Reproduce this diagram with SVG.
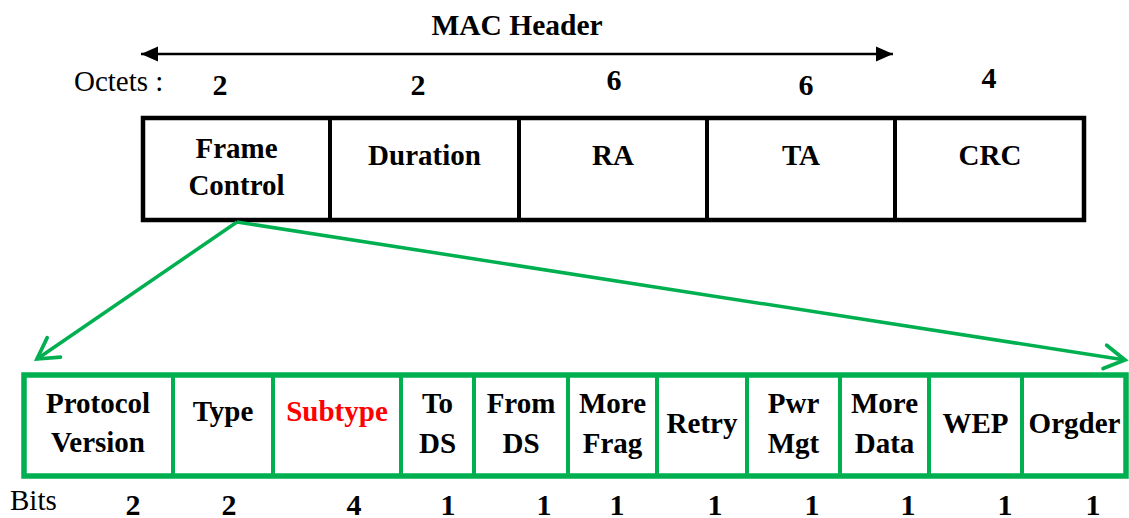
<svg xmlns="http://www.w3.org/2000/svg" width="1129" height="518" viewBox="0 0 1129 518">
  <style>
    text { font-family: 'Liberation Serif', Tinos, 'Times New Roman', Times, 'DejaVu Serif', serif; }
    .b { font-weight: bold; font-size: 29px; fill: #000; text-anchor: middle; }
    .n { font-weight: bold; font-size: 30px; fill: #000; text-anchor: middle; }
    .r { font-size: 29px; fill: #000; }
    .red { fill: #FF0000; }
    .blk { fill: none; stroke: #000; }
    .grn { fill: none; stroke: #00B050; }
  </style>
  <defs>
    <marker id="ah" markerUnits="userSpaceOnUse" markerWidth="20" markerHeight="20" viewBox="-18 -8 20 16" refX="0" refY="0" orient="auto-start-reverse">
      <path d="M-17,-7.5 L0,0 L-17,7.5 Z" fill="#000"/>
    </marker>
    <marker id="gh" markerUnits="userSpaceOnUse" markerWidth="30" markerHeight="30" viewBox="-22 -14 26 28" refX="0" refY="0" orient="auto">
      <path d="M-19,-11 L0,0 L-19,11" fill="none" stroke="#00B050" stroke-width="3.5" stroke-linecap="round" stroke-linejoin="miter"/>
    </marker>
  </defs>

  <g id="mac-header">
    <text class="b" x="517" y="35" style="font-size:29.5px">MAC Header</text>
  </g>

  <g id="octets">
    <text class="r" x="74" y="91">Octets :</text>
    <text class="n" x="220" y="95">2</text>
    <text class="n" x="418" y="95">2</text>
    <text class="n" x="614" y="90">6</text>
    <text class="n" x="806" y="95">6</text>
    <text class="n" x="989" y="88">4</text>
  </g>

  <g id="mac-frame">
    <rect class="blk" x="143" y="118" width="941" height="102" stroke-width="4.5"/>
    <line class="blk" x1="330" y1="118" x2="330" y2="220" stroke-width="4"/>
    <line class="blk" x1="519" y1="118" x2="519" y2="220" stroke-width="4"/>
    <line class="blk" x1="707" y1="118" x2="707" y2="220" stroke-width="4"/>
    <line class="blk" x1="895" y1="118" x2="895" y2="220" stroke-width="4"/>
  </g>
  <g id="frame-control"><text class="b" x="236.5" y="158">Frame</text><text class="b" x="236.5" y="195">Control</text></g>
  <g id="duration"><text class="b" x="424.5" y="165">Duration</text></g>
  <g id="ra"><text class="b" x="613" y="165">RA</text></g>
  <g id="ta"><text class="b" x="801" y="165">TA</text></g>
  <g id="crc"><text class="b" x="990" y="165">CRC</text></g>

  <g id="fc-frame">
    <rect class="grn" x="24" y="375" width="1102" height="101" stroke-width="5.5"/>
    <line class="grn" x1="173" y1="375" x2="173" y2="476" stroke-width="4"/>
    <line class="grn" x1="273" y1="375" x2="273" y2="476" stroke-width="4"/>
    <line class="grn" x1="401" y1="375" x2="401" y2="476" stroke-width="4"/>
    <line class="grn" x1="474" y1="375" x2="474" y2="476" stroke-width="4"/>
    <line class="grn" x1="568" y1="375" x2="568" y2="476" stroke-width="4"/>
    <line class="grn" x1="657" y1="375" x2="657" y2="476" stroke-width="4"/>
    <line class="grn" x1="747" y1="375" x2="747" y2="476" stroke-width="4"/>
    <line class="grn" x1="840" y1="375" x2="840" y2="476" stroke-width="4"/>
    <line class="grn" x1="929" y1="375" x2="929" y2="476" stroke-width="4"/>
    <line class="grn" x1="1022" y1="375" x2="1022" y2="476" stroke-width="4"/>
  </g>
  <g id="protocol-version"><text class="b" x="98" y="413">Protocol</text><text class="b" x="98" y="452">Version</text></g>
  <g id="type"><text class="b" x="223" y="421">Type</text></g>
  <g id="subtype"><text class="b red" x="337" y="421">Subtype</text></g>
  <g id="to-ds"><text class="b" x="437.5" y="413">To</text><text class="b" x="437.5" y="453">DS</text></g>
  <g id="from-ds"><text class="b" x="521" y="413">From</text><text class="b" x="521" y="453">DS</text></g>
  <g id="more-frag"><text class="b" x="612.5" y="413">More</text><text class="b" x="612.5" y="453">Frag</text></g>
  <g id="retry"><text class="b" x="702" y="433">Retry</text></g>
  <g id="pwr-mgt"><text class="b" x="793.5" y="413">Pwr</text><text class="b" x="793.5" y="453">Mgt</text></g>
  <g id="more-data"><text class="b" x="884.5" y="413">More</text><text class="b" x="884.5" y="453">Data</text></g>
  <g id="wep"><text class="b" x="975.5" y="433">WEP</text></g>
  <g id="order"><text class="b" x="1074.5" y="433">Orgder</text></g>

  <g id="bits">
    <text class="r" x="10" y="510">Bits</text>
    <text class="n" x="133" y="515">2</text>
    <text class="n" x="229" y="515">2</text>
    <text class="n" x="354" y="515">4</text>
    <text class="n" x="448" y="515">1</text>
    <text class="n" x="544" y="515">1</text>
    <text class="n" x="617" y="515">1</text>
    <text class="n" x="715" y="515">1</text>
    <text class="n" x="812" y="515">1</text>
    <text class="n" x="908" y="515">1</text>
    <text class="n" x="1005" y="515">1</text>
    <text class="n" x="1093" y="515">1</text>
  </g>

  <g id="connectors">
    <line x1="141" y1="54" x2="893" y2="54" stroke="#000" stroke-width="2.5" marker-start="url(#ah)" marker-end="url(#ah)"/>
    <line class="grn" x1="237" y1="222" x2="37" y2="359" stroke-width="3.5" marker-end="url(#gh)"/>
    <line class="grn" x1="237" y1="222" x2="1125" y2="360" stroke-width="3.5" marker-end="url(#gh)"/>
  </g>
</svg>
